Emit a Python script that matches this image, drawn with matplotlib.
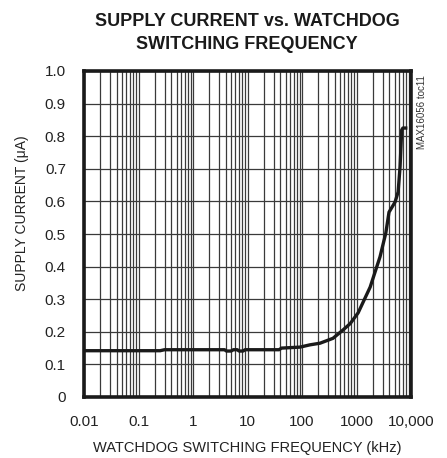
import numpy as np
import matplotlib
matplotlib.use('Agg')
import matplotlib.pyplot as plt

plt.rcParams['font.family'] = ['Liberation Sans Narrow', 'Liberation Sans', 'DejaVu Sans']

# 데이터
freq_khz = [0.01, 0.25, 0.3, 3.8, 4.1, 5.0, 5.5, 6.5, 7.0, 8.3, 9.0, 38, 42, 92,
            140, 214, 370, 560, 765, 1070, 1780, 2700, 3450, 3950, 5100, 5800,
            6300, 6750, 7100, 8000]
current_ua = [0.142, 0.142, 0.145, 0.145, 0.141, 0.141, 0.145, 0.145, 0.141, 0.141,
              0.145, 0.145, 0.150, 0.153, 0.160, 0.165, 0.180, 0.205, 0.225, 0.258,
              0.337, 0.43, 0.503, 0.567, 0.598, 0.629, 0.706, 0.819, 0.825, 0.825]

x_ticks = [0.01, 0.1, 1, 10, 100, 1000, 10000]
x_labels = ['0.01', '0.1', '1', '10', '100', '1000', '10,000']
y_ticks = [0, 0.1, 0.2, 0.3, 0.4, 0.5, 0.6, 0.7, 0.8, 0.9, 1.0]
y_labels = ['0', '0.1', '0.2', '0.3', '0.4', '0.5', '0.6', '0.7', '0.8', '0.9', '1.0']

fig = plt.figure(figsize=(4.47, 4.58), dpi=100)
ax = fig.add_axes([84/447, 1-397/458, 327/447, 326/458])

ax.plot(freq_khz, current_ua, color='#1a1a1a', lw=2.4, zorder=3)

ax.set_xscale('log')
ax.set_xlim(0.01, 10000)
ax.set_ylim(0, 1.0)
ax.set_xticks(x_ticks)
ax.set_xticklabels(x_labels)
ax.set_yticks(y_ticks)
ax.set_yticklabels(y_labels)
ax.xaxis.set_minor_locator(matplotlib.ticker.LogLocator(base=10, subs=np.arange(2, 10)))
ax.xaxis.set_minor_formatter(matplotlib.ticker.NullFormatter())

ax.grid(True, which='both', axis='x', color='#3a3a3a', lw=0.9)
ax.grid(True, which='major', axis='y', color='#3a3a3a', lw=0.9)
ax.tick_params(which='both', length=0, labelsize=11, colors='#222222')
ax.tick_params(axis='x', pad=13)
ax.tick_params(axis='y', pad=13)
for s in ax.spines.values():
    s.set_linewidth(2.6)
    s.set_color('#1a1a1a')

fig.text(247/447, 1-448/458, 'WATCHDOG SWITCHING FREQUENCY (kHz)', ha='center', va='center',
         fontsize=10.5, color='#222222')
fig.text(22/447, 1-213/458, 'SUPPLY CURRENT (μA)', rotation=90, ha='center', va='center',
         fontsize=10, color='#222222')

fig.text(247/447, 1-33/458, 'SUPPLY CURRENT vs. WATCHDOG\nSWITCHING FREQUENCY', ha='center',
         va='center', fontsize=13, fontweight='bold', color='#1a1a1a', linespacing=1.45)

fig.text(422/447, 1-75/458, 'MAX16056 toc11', rotation=90, ha='center', va='top',
         fontsize=7, color='#333333')

fig.savefig('out.png', dpi=100)
